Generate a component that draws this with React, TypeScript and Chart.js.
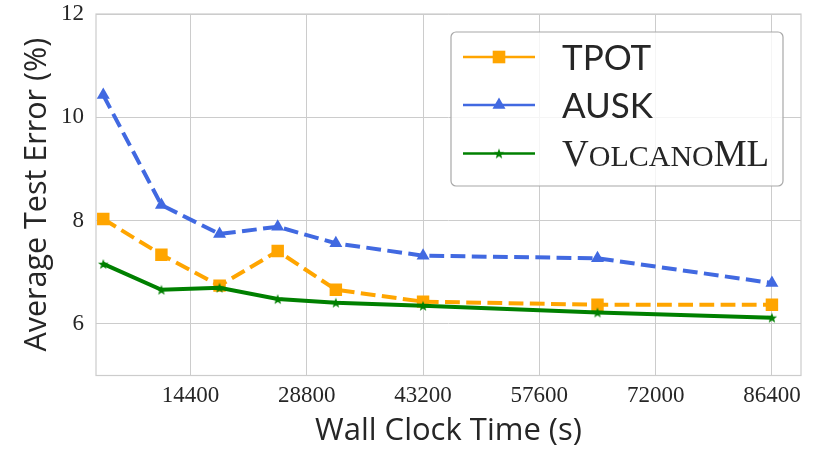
import React, { useEffect, useRef } from 'react';
import { Chart, registerables } from 'chart.js';

Chart.register(...registerables);

const TIMES = [3600, 10800, 18000, 25200, 32400, 43200, 64800, 86400];
const TPOT = [8.03, 7.34, 6.74, 7.41, 6.66, 6.43, 6.37, 6.37];
const AUSK = [10.43, 8.3, 7.74, 7.88, 7.56, 7.32, 7.27, 6.79];
const VOLCANO = [7.16, 6.66, 6.7, 6.48, 6.41, 6.35, 6.22, 6.12];
const X_TICKS = [14400, 28800, 43200, 57600, 72000, 86400];
const Y_TICKS = [6, 8, 10, 12];
const SERIES_NAMES = ['TPOT', 'AUSK', 'VolcanoML'];
const COLORS = ['#FFA500', '#4169E1', '#008000'];

const TEXT = '#262626';
const GRID = '#cccccc';
const SANS = '"Open Sans"';
const LEGEND_SANS = 'Lato';
const SERIF = '"Liberation Serif"';

function makeStar(color: string, outer: number, inner: number) {
  const size = 12;
  const c = document.createElement('canvas');
  c.width = size;
  c.height = size;
  const ctx = c.getContext('2d')!;
  ctx.translate(size / 2, size / 2 + 0.5);
  ctx.beginPath();
  for (let i = 0; i < 10; i++) {
    const r = i % 2 === 0 ? outer : inner;
    const a = -Math.PI / 2 + (i * Math.PI) / 5;
    ctx.lineTo(r * Math.cos(a), r * Math.sin(a));
  }
  ctx.closePath();
  ctx.fillStyle = color;
  ctx.fill();
  return c;
}

export default function App() {
  const ref = useRef<HTMLCanvasElement>(null);
  useEffect(() => {
    const canvas = ref.current!;
    const star = makeStar(COLORS[2], 5.5, 2.3);

    const framePlugin = {
      id: 'frame',
      beforeDatasetsDraw(chart: any) {
        const { ctx, chartArea: a } = chart;
        ctx.save();
        ctx.strokeStyle = GRID;
        ctx.lineWidth = 1.2;
        ctx.strokeRect(a.left, a.top, a.right - a.left, a.bottom - a.top);
        ctx.restore();
      },
    };

    const legendPlugin = {
      id: 'customLegend',
      afterDraw(chart: any) {
        const ctx = chart.ctx as CanvasRenderingContext2D;
        ctx.save();
        const bx = 451, by = 32, bw = 332, bh = 154;
        ctx.beginPath();
        (ctx as any).roundRect(bx, by, bw, bh, 5);
        ctx.fillStyle = 'rgba(255,255,255,0.8)';
        ctx.fill();
        ctx.strokeStyle = '#a8a8a8';
        ctx.lineWidth = 1.2;
        ctx.stroke();
        const rows = [57, 105, 153.5];
        rows.forEach((y, i) => {
          ctx.strokeStyle = COLORS[i];
          ctx.lineWidth = 2.6;
          ctx.setLineDash([]);
          ctx.beginPath();
          ctx.moveTo(463, y);
          ctx.lineTo(535, y);
          ctx.stroke();
          ctx.fillStyle = COLORS[i];
          const mx = 499;
          if (i === 0) {
            ctx.fillRect(mx - 6.3, y - 6.3, 12.6, 12.6);
          } else if (i === 1) {
            const r = 7.5;
            ctx.beginPath();
            ctx.moveTo(mx, y - r);
            ctx.lineTo(mx + r * 0.866, y + r / 2);
            ctx.lineTo(mx - r * 0.866, y + r / 2);
            ctx.closePath();
            ctx.fill();
          } else {
            ctx.drawImage(star, mx - 6, y - 6);
          }
          ctx.fillStyle = TEXT;
          ctx.textBaseline = 'alphabetic';
          ctx.textAlign = 'left';
          const tx = 562;
          if (i < 2) {
            ctx.font = `35px ${LEGEND_SANS}`;
            ctx.fillText(SERIES_NAMES[i], tx, y + 12.5);
          } else {
            const name = SERIES_NAMES[i];
            let x = tx;
            const big = `37px ${SERIF}`;
            const small = `30px ${SERIF}`;
            for (const ch of name) {
              const isUpper = ch === ch.toUpperCase();
              ctx.font = isUpper ? big : small;
              const s = isUpper ? ch : ch.toUpperCase();
              ctx.fillText(s, x, y + 12.3);
              x += ctx.measureText(s).width;
            }
          }
        });
        ctx.restore();
      },
    };

    const dash = [14.8, 6.4];
    const chart = new Chart(canvas, {
      type: 'line',
      data: {
        datasets: [
          {
            label: SERIES_NAMES[0],
            data: TIMES.map((t, i) => ({ x: t, y: TPOT[i] })),
            borderColor: COLORS[0],
            backgroundColor: COLORS[0],
            borderWidth: 4,
            borderDash: dash,
            pointStyle: 'rect',
            pointRadius: 8.8,
            pointBorderWidth: 0,
            order: 3,
          },
          {
            label: SERIES_NAMES[1],
            data: TIMES.map((t, i) => ({ x: t, y: AUSK[i] })),
            borderColor: COLORS[1],
            backgroundColor: COLORS[1],
            borderWidth: 4,
            borderDash: dash,
            pointStyle: 'triangle',
            pointRadius: 7.5,
            pointBorderWidth: 0,
            order: 2,
          },
          {
            label: SERIES_NAMES[2],
            data: TIMES.map((t, i) => ({ x: t, y: VOLCANO[i] })),
            borderColor: COLORS[2],
            backgroundColor: COLORS[2],
            borderWidth: 4,
            pointStyle: star as any,
            pointRadius: 6,
            pointBorderWidth: 0,
            order: 1,
          },
        ],
      },
      options: {
        animation: false,
        responsive: false,
        devicePixelRatio: 1,
        layout: { padding: { top: 14, right: 29, left: 0, bottom: 0 } },
        plugins: { legend: { display: false }, tooltip: { enabled: false } },
        elements: { line: { tension: 0 } },
        scales: {
          x: {
            type: 'linear',
            min: 2700,
            max: 90000,
            afterBuildTicks: (s: any) => {
              s.ticks = X_TICKS.map((v) => ({ value: v }));
            },
            afterFit: (s: any) => {
              s.height = 91.5;
              s.paddingLeft = 0;
              s.paddingRight = 0;
            },
            grid: { color: GRID, lineWidth: 1, drawTicks: false },
            border: { display: false },
            ticks: {
              padding: 7,
              color: TEXT,
              font: { family: SERIF, size: 23 },
              callback: (v: any) => String(v),
              maxRotation: 0,
            },
            title: {
              display: true,
              text: 'Wall Clock Time (s)',
              color: TEXT,
              font: { family: SANS, size: 31, lineHeight: 1.2 },
              padding: { top: 0, bottom: 17 },
            },
          },
          y: {
            min: 5,
            max: 12,
            afterBuildTicks: (s: any) => {
              s.ticks = Y_TICKS.map((v) => ({ value: v }));
            },
            afterFit: (s: any) => {
              s.width = 96;
              s.paddingTop = 0;
              s.paddingBottom = 0;
            },
            grid: { color: GRID, lineWidth: 1, drawTicks: false },
            border: { display: false },
            ticks: {
              padding: 12,
              color: TEXT,
              font: { family: SERIF, size: 23 },
              callback: (v: any) => String(v),
            },
            title: {
              display: true,
              text: 'Average Test Error (%)',
              color: TEXT,
              font: { family: SANS, size: 30.5, lineHeight: 1.2 },
              padding: { top: 19, bottom: 0 },
            },
          },
        },
      },
      plugins: [framePlugin, legendPlugin],
    } as any);
    return () => chart.destroy();
  }, []);

  return (
    <div style={{ position: 'fixed', left: 0, top: 0, width: 830, height: 467, background: '#fff' }}>
      <canvas ref={ref} width={830} height={467} style={{ width: 830, height: 467, display: 'block' }} />
    </div>
  );
}
